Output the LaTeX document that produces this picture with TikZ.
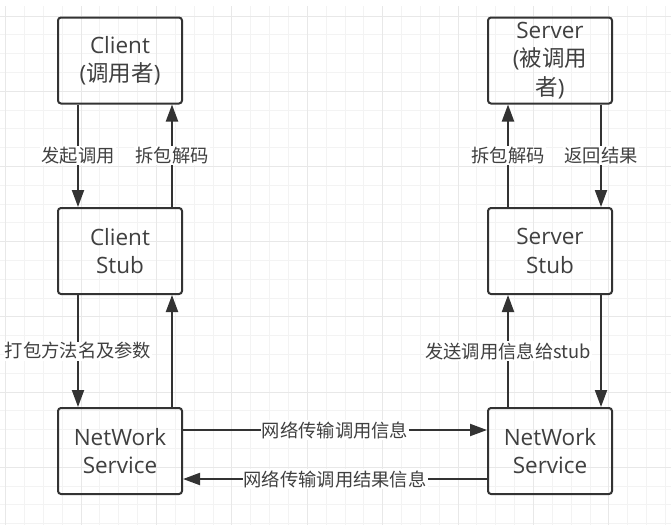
\documentclass[tikz,border=0pt]{standalone}
\usepackage{fontspec}
\setmainfont{Open Sans}
\newfontfamily\cjk{Noto Sans CJK SC}
\usetikzlibrary{arrows.meta}
\definecolor{ink}{HTML}{333333}
\definecolor{txt}{HTML}{404040}
\definecolor{gridminor}{HTML}{F3F3F3}
\definecolor{gridmajor}{HTML}{E8E8E8}
\begin{document}
\begin{tikzpicture}[x=1pt,y=-1pt,
  box/.style={draw=ink, line width=2pt, rounded corners=3pt, minimum width=124pt, minimum height=86pt,
    align=center, font=\fontsize{22.5}{28.5}\selectfont, text=txt, inner sep=0pt},
  arr/.style={draw=ink, line width=2pt, -{Triangle[length=17pt,width=12pt]}},
  lab/.style={fill=white, font=\cjk\fontsize{18.3}{20}\selectfont, text=txt, inner sep=1pt}
]
\useasboundingbox (0,0) rectangle (671,525);
\fill[white] (0,0) rectangle (671,525);
% grid
\begin{scope}
\clip (0,6) rectangle (671,525);
\foreach \i in {0,...,35} { \draw[gridminor, line width=1pt] ({5.7+18.85*\i},0) -- ++(0,525); }
\foreach \j in {0,...,27} { \draw[gridminor, line width=1pt] (0,{16+18.8*\j}) -- ++(671,0); }
\foreach \i in {0,4,...,35} { \draw[gridmajor, line width=1pt] ({5.7+18.85*\i},0) -- ++(0,525); }
\foreach \j in {0,4,...,27} { \draw[gridmajor, line width=1pt] (0,{16+18.8*\j}) -- ++(671,0); }
\end{scope}
% boxes
\node[box] (c)  at (120,60.5) {Client\\({\cjk 调用者})};
\node[box] (cs) at (120,251)  {Client\\Stub};
\node[box] (nl) at (120,451)  {NetWork\\Service};
\node[box] (s)  at (550,60.5) {Server\\({\cjk 被调用}\\{\cjk 者})};
\node[box] (ss) at (550,251)  {Server\\Stub};
\node[box] (nr) at (550,451)  {NetWork\\Service};
% client side
\draw[arr] ([xshift=-42pt]c.south) -- node[lab]{发起调用} ([xshift=-42pt]cs.north);
\draw[arr] ([xshift=52pt]cs.north) -- node[lab]{拆包解码} ([xshift=52pt]c.south);
\draw[arr] ([xshift=-42pt]cs.south) -- node[lab]{打包方法名及参数} ([xshift=-42pt]nl.north);
\draw[arr] ([xshift=52pt]nl.north) -- ([xshift=52pt]cs.south);
% server side
\draw[arr] ([xshift=-42pt]ss.north) -- node[lab]{拆包解码} ([xshift=-42pt]s.south);
\draw[arr] ([xshift=51pt]s.south) -- node[lab]{返回结果} ([xshift=51pt]ss.north);
\draw[arr] ([xshift=-42pt]nr.north) -- node[lab]{发送调用信息给stub} ([xshift=-42pt]ss.south);
\draw[arr] ([xshift=51pt]ss.south) -- ([xshift=51pt]nr.north);
% network
\draw[arr] ([yshift=21pt]nl.east) -- node[lab]{网络传输调用信息} ([yshift=21pt]nr.west);
\draw[arr] ([yshift=-28pt]nr.west) -- node[lab]{网络传输调用结果信息} ([yshift=-28pt]nl.east);
\end{tikzpicture}
\end{document}
